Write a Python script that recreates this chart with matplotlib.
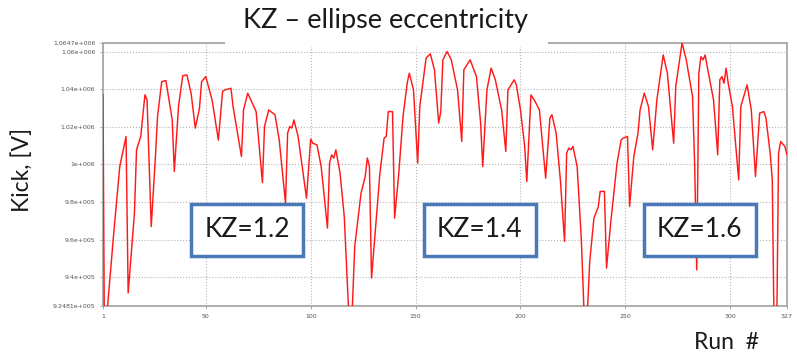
import matplotlib
matplotlib.use("Agg")
import matplotlib.pyplot as plt
from matplotlib.patches import Rectangle

# Kick [V] vs run number (vertices of the trace)
runs = [1, 2, 3, 6, 9, 12, 13, 16, 17, 19, 21, 22, 24, 26, 27, 29, 31, 34, 35, 37,
        39, 41, 43, 45, 47, 48, 50, 53, 56, 58, 59, 62, 63, 67, 68, 70, 74, 77, 78, 80,
        83, 85, 88, 89, 90, 91, 92, 94, 98, 100, 101, 103, 105, 108, 109, 110, 111, 112, 114, 116,
        119, 121, 124, 126, 127, 128, 129, 132, 133, 135, 136, 137, 139, 140, 142, 144, 146, 147, 149, 151,
        152, 155, 157, 159, 161, 162, 163, 165, 167, 170, 172, 173, 176, 179, 181, 182, 184, 186, 188, 191,
        193, 194, 195, 197, 198, 200, 202, 203, 205, 207, 209, 212, 214, 215, 217, 219, 221, 222, 223, 224,
        225, 227, 229, 231, 233, 235, 237, 238, 240, 241, 243, 245, 246, 248, 249, 251, 252, 254, 256, 257,
        259, 261, 263, 265, 268, 270, 273, 274, 277, 279, 282, 283, 284, 285, 286, 287, 288, 289, 292, 294,
        295, 296, 297, 298, 299, 301, 304, 305, 308, 310, 312, 314, 316, 317, 319, 320, 321, 322, 323, 324,
        326, 327]
kick = [1037000, 850000, 922000, 961800, 998900, 1014900, 931700, 974200, 1007800, 1014900,
        1037000, 1034300, 967000, 1004200, 1025500, 1044000, 1044600, 1023700, 996300, 1030800,
        1047100, 1047600, 1037900, 1019300, 1029900, 1044000, 1046700, 1034300, 1013000, 1038800,
        1039600, 1040500, 1030800, 1004200, 1029000, 1037900, 1028100, 990400, 1020200, 1029000,
        1026400, 1013100, 979500, 1016600, 1020200, 1019300, 1023700, 1014900, 982100, 1013500,
        1011300, 1010400, 998900, 966200, 1000700, 1005100, 1003400, 1007800, 995400, 972400,
        900000, 956500, 984800, 993600, 1003400, 998900, 939600, 981200, 995400, 1014000,
        1014900, 1028100, 1028100, 971500, 995400, 1025500, 1043200, 1048500, 1039600, 1000700,
        1030800, 1056500, 1058800, 1050300, 1022000, 1028100, 1055600, 1060000, 1055600, 1039600,
        1012200, 1050300, 1055600, 1046700, 1022000, 998900, 1039600, 1051200, 1045000, 1029000,
        1006900, 1039600, 1041400, 1045000, 1042300, 1029000, 1009600, 990900, 1037000, 1033400,
        1029000, 992700, 1024600, 1026400, 1016600, 991800, 959100, 1006000, 1008700, 1007800,
        1009600, 998900, 960000, 900000, 948500, 971600, 977200, 985700, 985700, 945000,
        969000, 990100, 1000700, 1013100, 1014000, 1014900, 977700, 1004200, 1016600, 1029000,
        1037900, 1030800, 1007800, 1034300, 1058200, 1048500, 1011300, 1041400, 1064600, 1055600,
        1036100, 1000000, 944000, 1048500, 1057300, 1055600, 1058200, 1052000, 1034300, 1005100,
        1045000, 1046700, 1043200, 1051200, 1043200, 1030800, 991800, 1030800, 1042300, 1029000,
        993600, 1027300, 1028100, 1024600, 1006000, 991800, 900000, 900000, 1006000, 1012200,
        1009600, 1005100]

x_ticks = [1, 50, 100, 150, 200, 250, 300, 327]
y_ticks = [924810, 940000, 960000, 980000, 1000000, 1020000, 1040000, 1060000, 1064700]
y_tick_labels = ['9.2481e+005', '9.4e+005', '9.6e+005', '9.8e+005', '1e+006',
                 '1.02e+006', '1.04e+006', '1.06e+006', '1.0647e+006']
boxes = [('KZ=1.2', 0.310), ('KZ=1.4', 0.602), ('KZ=1.6', 0.878)]

fig = plt.figure(figsize=(7.97, 3.61), dpi=100)
ax = fig.add_axes([0.1292, 0.1524, 0.8582, 0.7293])

ax.plot(runs, kick, color='#ff1a1a', linewidth=1.05, zorder=3)
ax.set_xlim(1, 327)
ax.set_ylim(924810, 1064700)
ax.set_xticks(x_ticks)
ax.set_xticklabels([str(t) for t in x_ticks])
ax.set_yticks(y_ticks)
ax.set_yticklabels(y_tick_labels)
ax.tick_params(labelsize=4.5, labelcolor='#555555', color='#999999', length=2, width=0.6)
ax.grid(True, linestyle=':', color='#b5b5b5', linewidth=0.8)
for s in ax.spines.values():
    s.set_color('#a8a8a8')
    s.set_linewidth(1.3)

# white title box hides the middle of the top frame
fig.add_artist(Rectangle((0.282, 0.870), 0.406, 0.13, transform=fig.transFigure,
                         facecolor='white', edgecolor='none', zorder=5))
fig.text(0.484, 0.942, 'KZ \u2013 ellipse eccentricity', fontsize=19.5, family='Lato',
         color='#1a1a1a', ha='center', va='center', zorder=6)

fig.text(0.028, 0.53, 'Kick, [V]', fontsize=16.5, family='Lato', rotation=90,
         color='#1a1a1a', ha='center', va='center')
fig.text(0.912, 0.05, 'Run  #', fontsize=16.5, family='Lato',
         color='#1a1a1a', ha='center', va='center')

for label, xc in boxes:
    fig.text(xc, 0.363, label, fontsize=19, family='Lato', color='#1a1a1a',
             ha='center', va='center', zorder=10,
             bbox=dict(boxstyle='square,pad=0.5', facecolor='white',
                       edgecolor='#4a78b8', linewidth=2.5))

fig.savefig('out.png', dpi=100)
